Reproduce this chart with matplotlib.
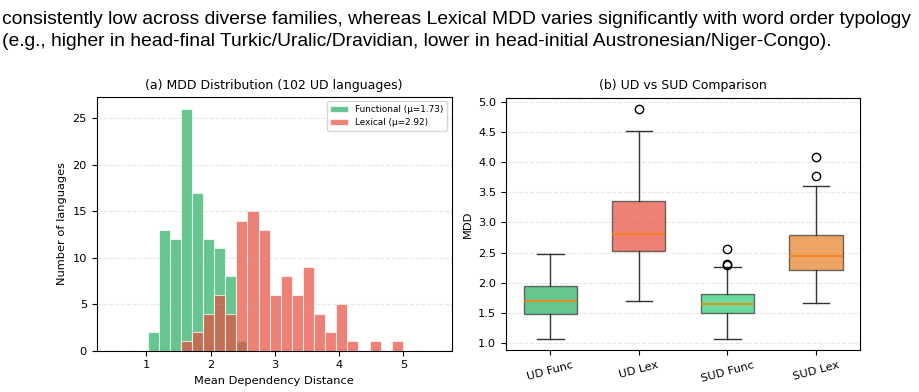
import numpy as np
import matplotlib
matplotlib.use("Agg")
import matplotlib.pyplot as plt

# histogram: 23 shared bins between the smallest and largest MDD
BIN_LO, BIN_HI, N_BINS = 1.02, 4.99, 23
func_counts = [2, 13, 12, 26, 17, 12, 11, 8, 1, 0, 0, 0,
               0, 0, 0, 0, 0, 0, 0, 0, 0, 0, 0]
lex_counts = [0, 0, 0, 1, 2, 4, 6, 4, 14, 15, 13, 6,
              8, 6, 9, 4, 2, 5, 1, 0, 1, 0, 1]
func_mean = 1.73
lex_mean = 2.92

# box plot summary stats
box_labels = ["UD Func", "UD Lex", "SUD Func", "SUD Lex"]
box_whislo = [1.07, 1.70, 1.07, 1.67]
box_q1 = [1.48, 2.52, 1.50, 2.21]
box_med = [1.69, 2.81, 1.65, 2.45]
box_q3 = [1.95, 3.35, 1.81, 2.79]
box_whishi = [2.48, 4.51, 2.26, 3.60]
box_fliers = [[], [4.88], [2.56, 2.31, 2.29], [3.77, 4.08]]
box_colors = ["#27ae60", "#e74c3c", "#2ecc71", "#e67e22"]

caption = [
    "consistently low across diverse families, whereas Lexical MDD varies significantly with word order typology",
    "(e.g., higher in head-final Turkic/Uralic/Dravidian, lower in head-initial Austronesian/Niger-Congo).",
]

fig = plt.figure(figsize=(9.2, 3.92), dpi=100)
for i, line in enumerate(caption):
    fig.text(0.002, 1 - (24 + 21.5 * i) / 392, line, family="Liberation Sans",
             fontsize=13.85, color="black", va="baseline", ha="left")

ax1 = fig.add_axes([0.1051, 0.1054, 0.3859, 0.6472])
ax2 = fig.add_axes([0.55, 0.1064, 0.3851, 0.6445])

edges = np.linspace(BIN_LO, BIN_HI, N_BINS + 1)
centers = (edges[:-1] + edges[1:]) / 2
ax1.hist(centers, bins=edges, weights=func_counts, color="#27ae60", alpha=0.7,
         edgecolor="white", linewidth=0.8, label=f"Functional (μ={func_mean:.2f})")
ax1.hist(centers, bins=edges, weights=lex_counts, color="#e74c3c", alpha=0.7,
         edgecolor="white", linewidth=0.8, label=f"Lexical (μ={lex_mean:.2f})")
ax1.set_xlim(0.23, 5.75)
ax1.set_xlabel("Mean Dependency Distance", fontsize=8.2)
ax1.set_ylabel("Number of languages", fontsize=8.2)
ax1.set_title("(a) MDD Distribution (102 UD languages)", fontsize=9)
ax1.legend(fontsize=6.4, loc="upper right")
ax1.grid(axis="y", alpha=0.3, linestyle="--")
ax1.tick_params(labelsize=8.2)

stats = []
for i in range(len(box_labels)):
    stats.append(dict(label=box_labels[i], whislo=box_whislo[i], q1=box_q1[i],
                      med=box_med[i], q3=box_q3[i], whishi=box_whishi[i],
                      fliers=box_fliers[i]))
bp = ax2.bxp(stats, widths=0.6, patch_artist=True,
             medianprops=dict(color="#ff7f0e", linewidth=1.2),
             boxprops=dict(edgecolor="#333333", linewidth=1),
             whiskerprops=dict(color="#333333", linewidth=1),
             capprops=dict(color="#333333", linewidth=1))
for patch, c in zip(bp["boxes"], box_colors):
    patch.set_facecolor(c)
    patch.set_alpha(0.7)
ax2.set_ylabel("MDD", fontsize=8.2)
ax2.set_title("(b) UD vs SUD Comparison", fontsize=9)
ax2.grid(axis="y", alpha=0.3, linestyle="--")
ax2.tick_params(labelsize=8.2)
plt.setp(ax2.get_xticklabels(), rotation=15)

fig.savefig("out.png", dpi=100)
